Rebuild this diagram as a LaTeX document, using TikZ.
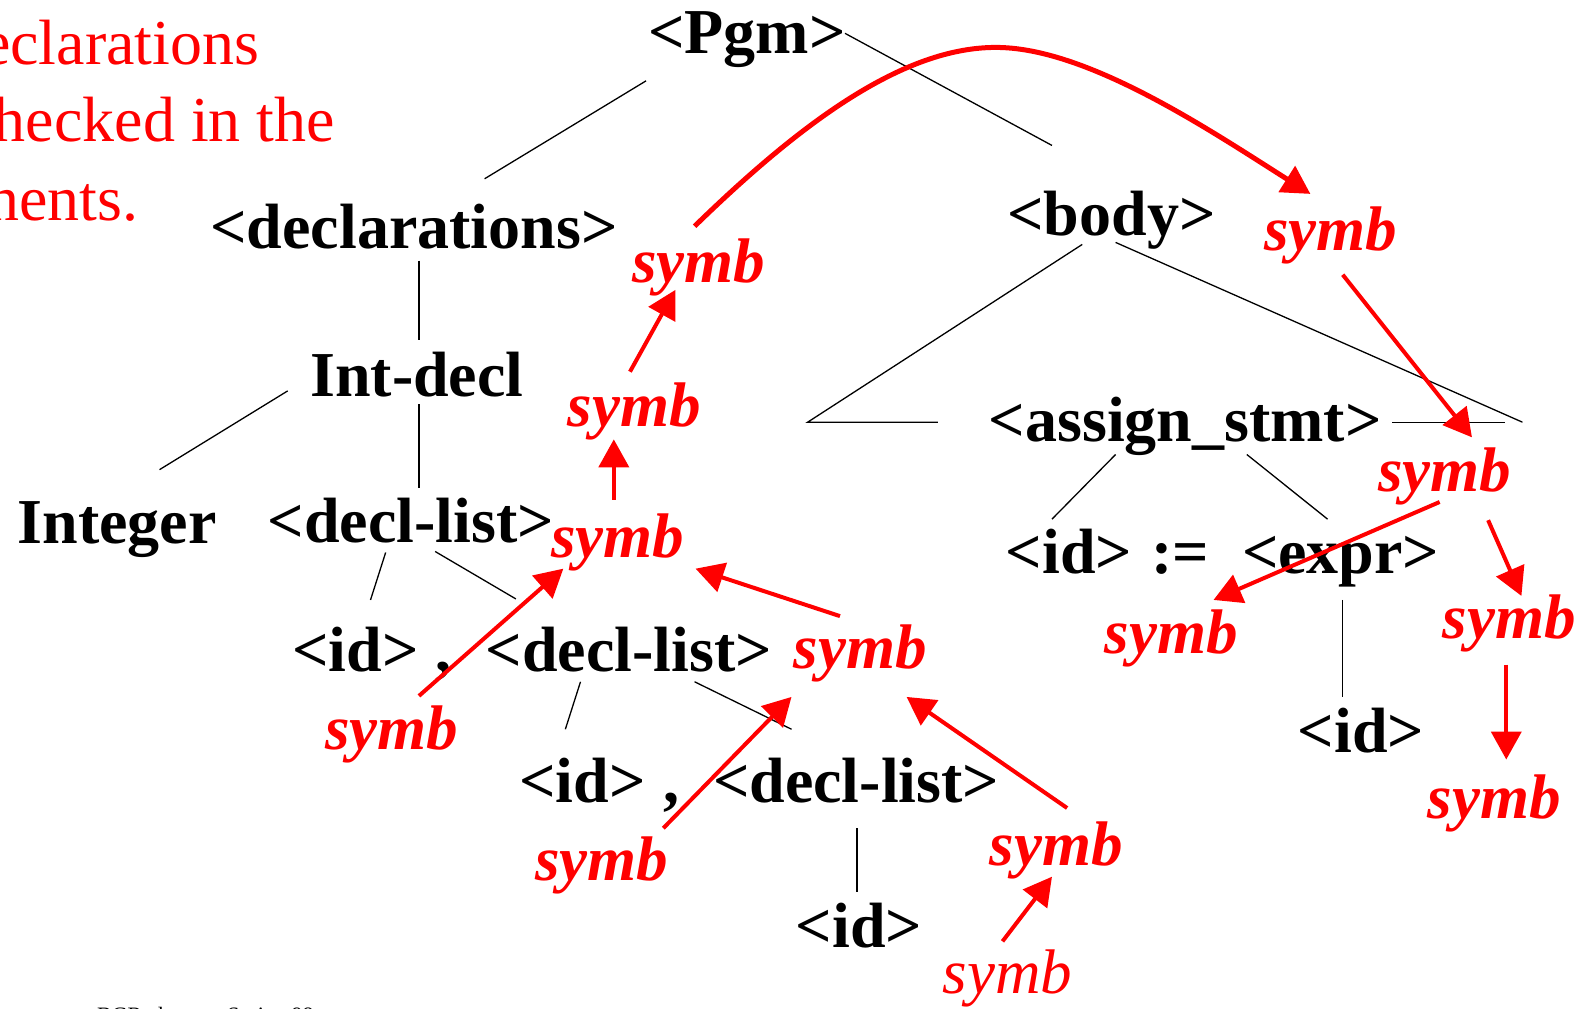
\documentclass[tikz,border=0pt]{standalone}
\usepackage{fontspec}
\setmainfont{Liberation Serif}
\usetikzlibrary{arrows.meta,calc}
\begin{document}
\begin{tikzpicture}[x=1.00957pt,y=-1.01002pt,
  lab/.style={font=\fontsize{64}{64}\selectfont\bfseries, inner sep=0pt, anchor=base},
  sym/.style={font=\fontsize{63}{63}\selectfont\bfseries\itshape, text=red, inner sep=0pt, anchor=base},
  symreg/.style={font=\fontsize{63}{63}\selectfont\itshape, text=red, inner sep=0pt, anchor=base},
  note/.style={font=\fontsize{64}{64}\selectfont, text=red, inner sep=0pt, anchor=base east},
  foot/.style={font=\fontsize{22}{22}\selectfont, inner sep=0pt, anchor=base west},
  tree/.style={line width=1.3pt, draw=black},
  redarrow/.style={draw=red, line width=4pt, -{Triangle[length=28pt,width=30pt]}}]
\useasboundingbox (0,0) rectangle (1568,998);
\clip (0,0) rectangle (1568,998);
\fill[white] (0,0) rectangle (1568,998);

% clipped red note at top left
\node[note] (n0) at (18,-13) {Using};
\node[note] (n1) at (257,64) {declarations};
\node[note] (n2) at (332,140) {checked in the};
\node[note] (n3) at (137,218) {components.};
% footer
\node[foot] (f1) at (96,1012) {BGRyder};
\node[foot] (f2) at (225,1012) {Spring 98};

% tree nodes
\node[lab] (pgm) at (740,53) {<Pgm>};
\node[lab] (decl) at (410,246) {<declarations>};
\node[lab] (body) at (1101,233) {<body>};
\node[lab] (intdecl) at (413,393) {Int-decl};
\node[lab] (integer) at (116,538) {Integer};
\node[lab] (dl1) at (407,537) {<decl-list>};
\node[lab] (id2) at (352,665) {<id>};
\node[lab] (c2) at (439,665) {,};
\node[lab] (dl2) at (623,665) {<decl-list>};
\node[lab] (id3) at (577,795) {<id>};
\node[lab] (c3) at (665,795) {,};
\node[lab] (dl3) at (848,795) {<decl-list>};
\node[lab] (id4) at (851,938) {<id>};
\node[lab] (assign) at (1174,437) {<assign\_stmt>};
\node[lab] (id5) at (1059,568) {<id>};
\node[lab] (asg) at (1169,568) {:=};
\node[lab] (expr) at (1328,568) {<expr>};
\node[lab] (id6) at (1348,745) {<id>};
\coordinate (triL) at (800,418);
\coordinate (triR) at (1508,418);

% tree lines
\draw[tree] ($(pgm.base)+(-100,27)$) -- ($(decl.base)+(70,-69)$);
\draw[tree] ($(pgm.base)+(97,-20)$) -- ($(body.base)+(-59,-89)$);
\draw[tree] ($(decl.base)+(5,12)$) -- ($(intdecl.base)+(2,-56)$);
\draw[tree] ($(intdecl.base)+(-128,-6)$) -- ($(integer.base)+(42,-73)$);
\draw[tree] ($(intdecl.base)+(2,7)$) -- ($(dl1.base)+(8,-54)$);
\draw[tree] ($(dl1.base)+(-25,10)$) -- ($(id2.base)+(15,-71)$);
\draw[tree] ($(dl1.base)+(24,9)$) -- ($(dl2.base)+(-112,-72)$);
\draw[tree] ($(dl2.base)+(-48,10)$) -- ($(id3.base)+(-17,-73)$);
\draw[tree] ($(dl2.base)+(65,10)$) -- ($(dl3.base)+(-64,-73)$);
\draw[tree] ($(dl3.base)+(1,25)$) -- ($(id4.base)+(-2,-55)$);
\draw[tree] ($(body.base)+(-29,9)$) -- (triL) -- ($(assign.base)+(-245,-19)$);
\draw[tree] ($(body.base)+(4,7)$) -- (triR);
\draw[tree] ($(assign.base)+(205,-19)$) -- ($(triR)+(-17,0)$);
\draw[tree] ($(assign.base)+(-69,13)$) -- ($(id5.base)+(-17,-54)$);
\draw[tree] ($(assign.base)+(61,13)$) -- ($(expr.base)+(-13,-54)$);
\draw[tree] ($(expr.base)+(2,26)$) -- ($(id6.base)+(-18,-55)$);

% symb nodes
\node[sym] (s1) at (692,280) {symb};
\node[sym] (s2) at (1318,248) {symb};
\node[sym] (s3) at (628,422) {symb};
\node[sym] (s4) at (612,552) {symb};
\node[sym] (s5) at (1431,487) {symb};
\node[sym] (s6) at (852,662) {symb};
\node[sym] (s7) at (1160,647) {symb};
\node[sym] (s8) at (1495,632) {symb};
\node[sym] (s9) at (388,742) {symb};
\node[sym] (s10) at (1480,810) {symb};
\node[sym] (s11) at (1046,857) {symb};
\node[sym] (s12) at (596,872) {symb};
\node[symreg] (s13) at (998,984) {symb};

% red arrows
\draw[redarrow, line width=5pt] ($(s1.base)+(-4,-56)$) .. controls (800,115) and (900,45) .. (990,47)
   .. controls (1080,49) and (1200,130) .. ($(s2.base)+(-20,-56)$);
\draw[redarrow] ($(s3.base)+(-4,-54)$) -- ($(s1.base)+(-23,7)$);
\draw[redarrow] ($(s4.base)+(-4,-57)$) -- ($(s3.base)+(-20,13)$);
\draw[redarrow] ($(s9.base)+(27,-53)$) -- ($(s4.base)+(-54,11)$);
\draw[redarrow] ($(s6.base)+(-20,-52)$) -- ($(s4.base)+(77,11)$);
\draw[redarrow] ($(s12.base)+(61,-52)$) -- ($(s6.base)+(-68,28)$);
\draw[redarrow] ($(s11.base)+(11,-57)$) -- ($(s6.base)+(46,28)$);
\draw[redarrow] ($(s13.base)+(-5,-52)$) -- ($(s11.base)+(-4,11)$);
\draw[redarrow] ($(s2.base)+(12,24)$) -- ($(s5.base)+(27,-54)$);
\draw[redarrow] ($(s5.base)+(-5,10)$) -- ($(s7.base)+(42,-53)$);
\draw[redarrow] ($(s5.base)+(43,28)$) -- ($(s8.base)+(12,-42)$);
\draw[redarrow] ($(s8.base)+(-3,26)$) -- ($(s10.base)+(12,-58)$);
\end{tikzpicture}
\end{document}
